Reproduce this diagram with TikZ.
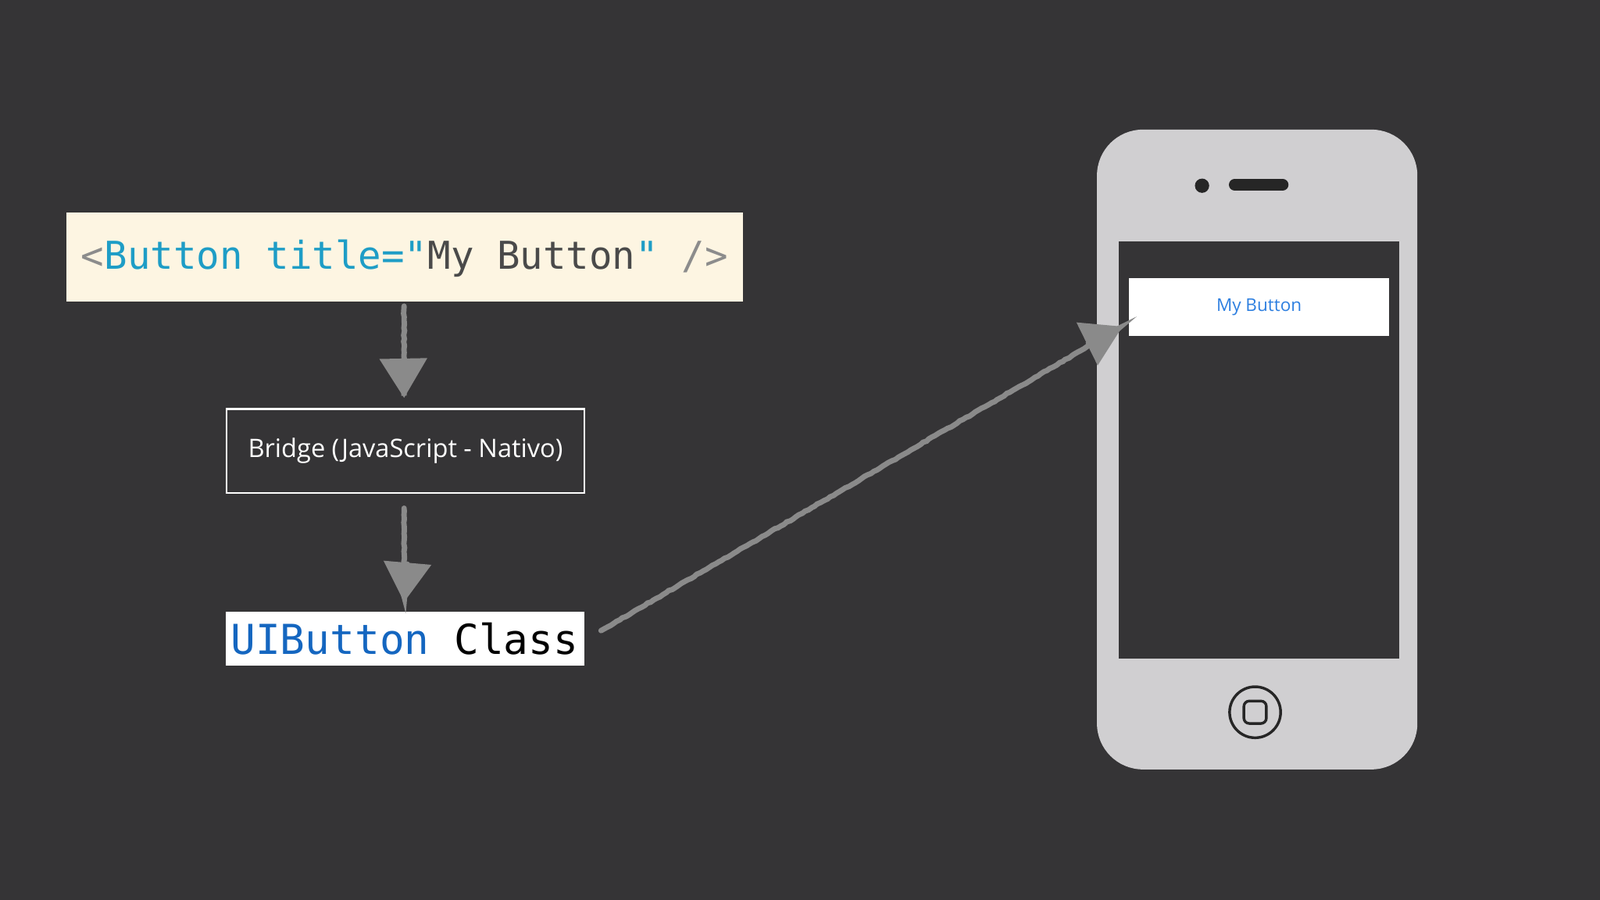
\documentclass[tikz,border=0pt]{standalone}
\usepackage{fontspec}
\setmainfont{Open Sans}
\setmonofont{DejaVu Sans Mono}
\usetikzlibrary{arrows.meta,decorations.pathmorphing}
\definecolor{bg}{HTML}{353436}
\definecolor{cream}{HTML}{FDF5E2}
\definecolor{teal}{HTML}{1E9DC6}
\definecolor{codegray}{HTML}{8C8C8C}
\definecolor{codedark}{HTML}{4A4A4A}
\definecolor{uiblue}{HTML}{1466C0}
\definecolor{phone}{HTML}{D0CFD1}
\definecolor{btnblue}{HTML}{2D7FE0}
\definecolor{chalk}{HTML}{8A8A8A}
\tikzset{
  chalkarrow/.style={draw=chalk, line width=3pt, line cap=round,
    decorate, decoration={random steps, segment length=2pt, amplitude=0.3pt},
    -{Triangle[length=22pt,width=26pt]}},
}
\begin{document}
\begin{tikzpicture}[x=0.02cm,y=-0.02cm]
\fill[bg] (0,0) rectangle (1568,882);
\useasboundingbox (0,0) rectangle (1568,882);
% code box
\node[fill=cream, minimum width=663*0.02cm, minimum height=87*0.02cm, inner sep=0, anchor=north west] (code) at (65,208) {};
\node[font=\ttfamily\fontsize{21.4}{24}\selectfont, anchor=center] (codetxt) at (396.5,253)
 {\textcolor{codegray}{<}\textcolor{teal}{Button title="}\textcolor{codedark}{My Button}\textcolor{teal}{"} \textcolor{codegray}{/>}};
% bridge
\node[draw=white, line width=1pt, minimum width=351*0.02cm, minimum height=82*0.02cm, inner sep=0, anchor=north west] (bridge) at (221,400) {};
\node[text=white, font=\fontsize{14.2}{17}\selectfont] (bridgetxt) at (bridge.center) {Bridge (JavaScript - Nativo)};
% uibutton
\node[fill=white, minimum width=351*0.02cm, minimum height=53*0.02cm, inner sep=0, anchor=north west] (ui) at (221,599) {};
\node[font=\ttfamily\fontsize{23}{26}\selectfont] (uitxt) at (396.5,626) {\textcolor{uiblue}{UIButton} \textcolor{black}{Class}};
% phone
\fill[phone, rounded corners=45*0.02cm] (1075,127) rectangle (1389,754);
\node[fill=bg, minimum width=275*0.02cm, minimum height=409*0.02cm, inner sep=0, anchor=north west] (screen) at (1096,236) {};
\node[fill=white, minimum width=255*0.02cm, minimum height=57*0.02cm, inner sep=0, anchor=north west] (btn) at (1106,272) {};
\node[text=btnblue, font=\fontsize{9.8}{11}\selectfont] (btntxt) at (btn.center) {My Button};
\fill[black!85] (1178,182) circle (7);
\draw[black!85, line width=6.5pt, line cap=round] (1210,181) -- (1257,181);
\draw[black!85, line width=1.5pt] (1230,698) circle (25);
\draw[black!85, line width=1.5pt, rounded corners=3pt] (1219,687) rectangle (1241,709);
% arrows
\coordinate (a3) at (1100,320);
\draw[chalkarrow] (396,300) -- (396,390);
\draw[chalkarrow] (396,498) -- (396,590);
\draw[chalkarrow] (589,618) -- (a3);
\end{tikzpicture}
\end{document}
